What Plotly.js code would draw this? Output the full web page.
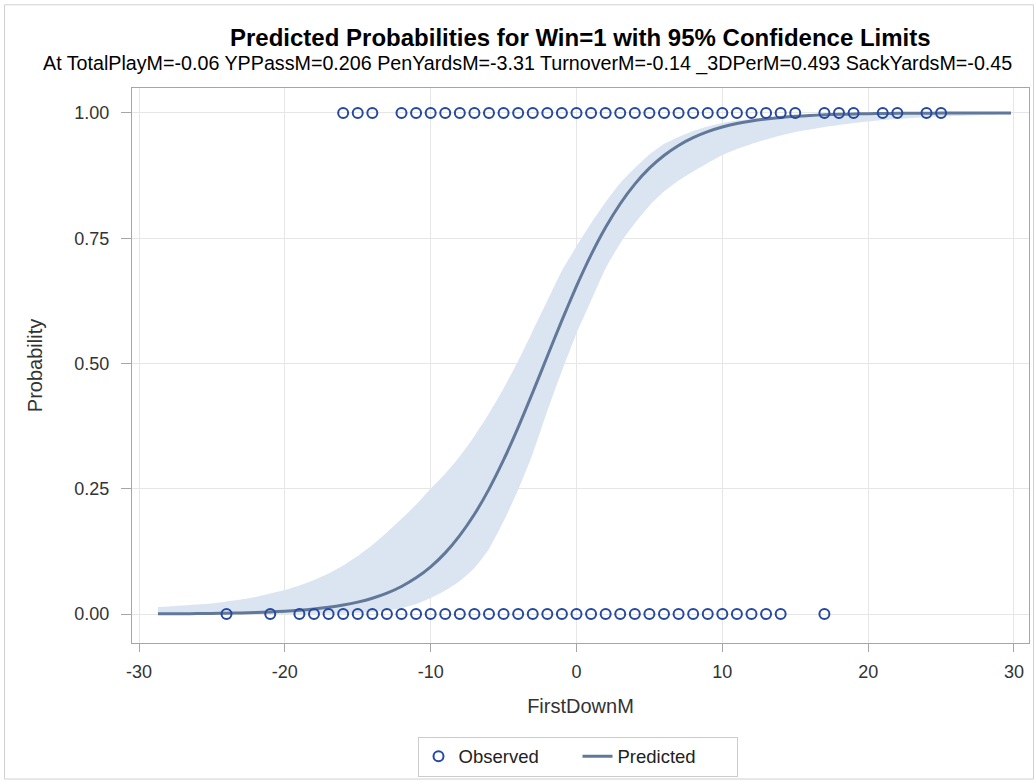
<!DOCTYPE html>
<html>
<head>
<meta charset="utf-8">
<script src="https://cdn.plot.ly/plotly-3.0.1.min.js"></script>
<style>
  html, body { margin: 0; padding: 0; background: #ffffff; }
  #chart { width: 1034px; height: 782px; }
</style>
</head>
<body>
<div id="chart"></div>
<script>
// Observed outcomes (Win = 1 and Win = 0) at FirstDownM values
const observedWinX = [-16, -15, -14, -12, -11, -10, -9, -8, -7, -6, -5, -4, -3, -2, -1, 0, 1, 2, 3, 4, 5, 6, 7, 8, 9, 10, 11, 12, 13, 14, 15, 17, 18, 19, 21, 22, 24, 25];
const observedLossX = [-24, -21, -19, -18, -17, -16, -15, -14, -13, -12, -11, -10, -9, -8, -7, -6, -5, -4, -3, -2, -1, 0, 1, 2, 3, 4, 5, 6, 7, 8, 9, 10, 11, 12, 13, 14, 17];

// Predicted probability curve with 95% confidence limits
const predX = [-28.7, -28, -27, -26, -25, -24, -23, -22, -21, -20, -19, -18, -17, -16, -15, -14, -13, -12, -11, -10,
  -9, -8, -7, -6, -5, -4, -3, -2, -1, 0, 1, 2, 3, 4, 5, 6, 7, 8, 9, 10,
  11, 12, 13, 14, 15, 16, 17, 18, 19, 20, 21, 22, 23, 24, 25, 26, 27, 28, 29, 29.8];
const predicted = [0.0005, 0.0006, 0.0008, 0.0010, 0.0013, 0.0018, 0.0024, 0.0032, 0.0043, 0.0057, 0.0076, 0.0101, 0.0135, 0.0180, 0.0239, 0.0316, 0.0418, 0.0551, 0.0723, 0.0943,
  0.1221, 0.1569, 0.1991, 0.2494, 0.3075, 0.3724, 0.4423, 0.5145, 0.5861, 0.6543, 0.7167, 0.7717, 0.8188, 0.8579, 0.8897, 0.9150, 0.9351, 0.9506, 0.9626, 0.9718,
  0.9787, 0.9840, 0.9880, 0.9910, 0.9932, 0.9949, 0.9962, 0.9972, 0.9979, 0.9984, 0.9988, 0.9991, 0.9993, 0.9995, 0.9996, 0.9997, 0.9998, 0.9998, 0.9999, 0.9999];
const upperCL = [0.014, 0.015, 0.017, 0.019, 0.021, 0.025, 0.029, 0.034, 0.041, 0.048, 0.057, 0.068, 0.081, 0.097, 0.116, 0.138, 0.163, 0.190, 0.218, 0.250,
  0.280, 0.315, 0.355, 0.400, 0.450, 0.505, 0.565, 0.625, 0.685, 0.734, 0.780, 0.822, 0.860, 0.890, 0.917, 0.938, 0.952, 0.964, 0.973, 0.980,
  0.985, 0.988, 0.991, 0.993, 0.995, 0.996, 0.997, 0.9975, 0.998, 0.9985, 0.9988, 0.999, 0.9992, 0.9993, 0.9995, 0.9996, 0.9997, 0.9997, 0.9998, 0.9998];
const lowerCL = [0.0000, 0.0000, 0.0000, 0.0000, 0.0001, 0.0001, 0.0001, 0.0002, 0.0003, 0.0004, 0.0005, 0.0007, 0.0010, 0.0014, 0.0022, 0.004, 0.007, 0.012, 0.020, 0.032,
  0.047, 0.066, 0.092, 0.130, 0.185, 0.248, 0.320, 0.405, 0.485, 0.560, 0.625, 0.690, 0.740, 0.780, 0.815, 0.843, 0.865, 0.883, 0.900, 0.916,
  0.928, 0.938, 0.947, 0.955, 0.962, 0.967, 0.972, 0.976, 0.980, 0.983, 0.986, 0.988, 0.990, 0.992, 0.993, 0.994, 0.995, 0.996, 0.997, 0.997];

const xTicks = [-30, -20, -10, 0, 10, 20, 30];
const yTicks = [0, 0.25, 0.5, 0.75, 1];

const titleText = 'Predicted Probabilities for Win=1 with 95% Confidence Limits';
const subtitleText = 'At TotalPlayM=-0.06 YPPassM=0.206 PenYardsM=-3.31 TurnoverM=-0.14 _3DPerM=0.493 SackYardsM=-0.45';

const FONT = 'Liberation Sans, Arial, sans-serif';

const traces = [
  { x: predX, y: lowerCL, type: 'scatter', mode: 'lines', line: { width: 0, shape: 'spline', smoothing: 0.5 },
    hoverinfo: 'skip', showlegend: false },
  { x: predX, y: upperCL, type: 'scatter', mode: 'lines', fill: 'tonexty', fillcolor: '#dbe4f1',
    line: { width: 0, shape: 'spline', smoothing: 0.5 }, hoverinfo: 'skip', showlegend: false },
  { x: predX, y: predicted, type: 'scatter', mode: 'lines', name: 'Predicted',
    line: { color: '#627899', width: 3, shape: 'spline', smoothing: 0.5 }, legendrank: 2 },
  { x: observedWinX.concat(observedLossX),
    y: observedWinX.map(() => 1).concat(observedLossX.map(() => 0)),
    type: 'scatter', mode: 'markers', name: 'Observed',
    marker: { symbol: 'circle-open', size: 10, color: '#2549a0', line: { width: 2, color: '#2549a0' } }, legendrank: 1 }
];

const L = 132, R = 1029, T = 88, B = 645;
const pw = R - L, ph = B - T;
const px = v => (v - L) / pw;
const py = v => (B - v) / ph;

const layout = {
  width: 1034, height: 782,
  margin: { l: L, r: 1034 - R, t: T, b: 782 - B },
  paper_bgcolor: '#ffffff', plot_bgcolor: '#ffffff',
  font: { family: FONT, size: 18, color: '#333333' },
  showlegend: true,
  legend: {
    orientation: 'h', x: px(577.5), xanchor: 'center', y: py(739), yanchor: 'top',
    bordercolor: '#cccccc', borderwidth: 1, bgcolor: '#ffffff',
    font: { family: FONT, size: 18.5, color: '#222222' },
    traceorder: 'normal', itemwidth: 30, entrywidth: 114, entrywidthmode: 'pixels'
  },
  xaxis: {
    range: [-30.48, 31.03], tickvals: xTicks, ticktext: xTicks.map(String),
    showgrid: true, gridcolor: '#e6e6e6', gridwidth: 1, zeroline: false,
    showline: true, linecolor: '#a6a6a6', linewidth: 1, mirror: true,
    ticks: 'outside', ticklen: 8, tickcolor: '#a6a6a6', ticklabelstandoff: 4,
    tickfont: { family: FONT, size: 18, color: '#333333' },
    title: { text: 'FirstDownM', font: { family: FONT, size: 20, color: '#333333' }, standoff: 18 }
  },
  yaxis: {
    range: [-0.0577, 1.0497], tickvals: yTicks, ticktext: yTicks.map(v => v.toFixed(2)),
    showgrid: true, gridcolor: '#e6e6e6', gridwidth: 1, zeroline: false,
    showline: true, linecolor: '#a6a6a6', linewidth: 1, mirror: true,
    ticks: 'outside', ticklen: 10, tickcolor: '#a6a6a6', ticklabelstandoff: 8,
    tickfont: { family: FONT, size: 18, color: '#333333' },
    title: { text: 'Probability', font: { family: FONT, size: 20, color: '#333333' }, standoff: 26 }
  },
  annotations: [
    { text: '<b>' + titleText + '</b>', xref: 'paper', yref: 'paper', x: px(580), y: py(37),
      xanchor: 'center', yanchor: 'middle', showarrow: false,
      font: { family: FONT, size: 24, color: '#000000' } },
    { text: subtitleText, xref: 'paper', yref: 'paper', x: px(527.5), y: py(63),
      xanchor: 'center', yanchor: 'middle', showarrow: false,
      font: { family: FONT, size: 19.7, color: '#000000' } }
  ],
  shapes: [
    { type: 'rect', xref: 'paper', yref: 'paper', x0: px(4.5), x1: px(1033.5), y0: py(781.5), y1: py(4.5),
      line: { color: '#d0d0d0', width: 1 }, fillcolor: 'rgba(0,0,0,0)', layer: 'below' }
  ]
};

Plotly.newPlot('chart', traces, layout, { displayModeBar: false, staticPlot: true });
</script>
</body>
</html>
